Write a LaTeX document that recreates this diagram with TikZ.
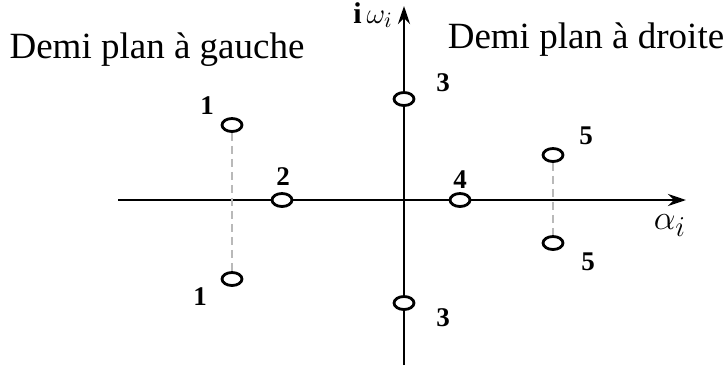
\documentclass[tikz,border=0pt]{standalone}
\usepackage{fontspec}
\setmainfont{Liberation Serif}
\usetikzlibrary{arrows.meta,shapes.geometric}

\begin{document}
\begin{tikzpicture}[
		x=0.5pt,y=-0.5pt,
		pole/.style={draw,ellipse,fill=white,line width=1.4pt,inner sep=0pt,minimum width=10pt,minimum height=6.5pt},
		num/.style={font=\fontsize{13.5}{13.5}\selectfont\bfseries},
		title/.style={font=\fontsize{18.5}{20}\selectfont,inner sep=0pt},
		axis/.style={line width=1.3pt,-{Stealth[length=9pt,width=6pt]}},
		link/.style={gray!55,line width=1.2pt,dash pattern=on 4pt off 2.5pt}
	]
	\useasboundingbox (0,0) rectangle (724,365);
	% axes
	\coordinate (xs) at (118,200);
	\coordinate (xe) at (686,200);
	\coordinate (ys) at (404,365);
	\coordinate (ye) at (404,6);
	\draw[axis] (xs)--(xe);
	\draw[axis] (ys)--(ye);
	\node[font=\fontsize{19}{19}\selectfont] (alpha) at (670,226) {$\alpha_i$};
	\node[font=\fontsize{15}{15}\selectfont] (omega) at (373,15) {$\mathbf{i}\,\omega_i$};
	% poles
	\node[pole] (p1a) at (232,125) {};
	\node[pole] (p1b) at (232,279) {};
	\node[pole] (p2) at (282,200) {};
	\node[pole] (p3a) at (404,99) {};
	\node[pole] (p3b) at (404,303) {};
	\node[pole] (p4) at (460,200) {};
	\node[pole] (p5a) at (553,155) {};
	\node[pole] (p5b) at (553,243) {};
	\draw[link] (p1a)--(p1b);
	\draw[link] (p5a)--(p5b);
	% labels
	\node[num] at (207,106) {1};
	\node[num] at (200,297) {1};
	\node[num] at (283,177) {2};
	\node[num] at (443,83) {3};
	\node[num] at (443,318) {3};
	\node[num] at (460,180) {4};
	\node[num] at (586,136) {5};
	\node[num] at (588,262) {5};
	\node[title] (left) at (157,50) {Demi plan à gauche};
	\node[title] (right) at (586,40) {Demi plan à droite};
\end{tikzpicture}
\end{document}
